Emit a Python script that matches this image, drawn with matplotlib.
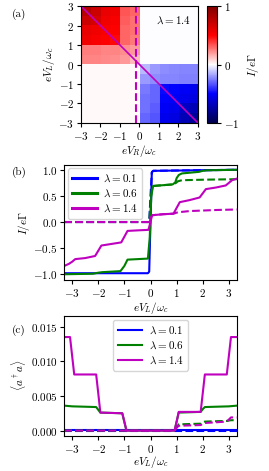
import numpy as np
import matplotlib
matplotlib.use('Agg')
import matplotlib.pyplot as plt

plt.rcParams['font.family'] = 'cmr10'
plt.rcParams['mathtext.fontset'] = 'cm'
plt.rcParams['axes.formatter.use_mathtext'] = True
plt.rcParams['font.size'] = 8
plt.rcParams['axes.linewidth'] = 0.8

# (a) current map, half-unit cells; rows go from eV_L = 3 down to -3
red_quad = [
    [0.78, 0.70, 0.58, 0.55, 0.33, 0.30],
    [0.70, 0.65, 0.55, 0.52, 0.32, 0.28],
    [0.58, 0.55, 0.52, 0.50, 0.30, 0.28],
    [0.55, 0.52, 0.50, 0.48, 0.30, 0.26],
    [0.25, 0.25, 0.24, 0.24, 0.22, 0.20],
    [0.24, 0.24, 0.23, 0.22, 0.20, 0.14],
]
blue_quad = [
    [-0.14, -0.20, -0.22, -0.23, -0.24, -0.24],
    [-0.20, -0.22, -0.24, -0.24, -0.25, -0.25],
    [-0.26, -0.30, -0.48, -0.50, -0.52, -0.55],
    [-0.28, -0.30, -0.50, -0.52, -0.55, -0.58],
    [-0.28, -0.32, -0.52, -0.55, -0.65, -0.70],
    [-0.30, -0.33, -0.55, -0.58, -0.70, -0.78],
]
top_right_level = -0.005
bottom_left_level = 0.015
cut_vr = [-3, 3]
cut_vl = [3, -3]
fixed_vr = -0.2

# (b) current vs eV_L
b_x_blue = [-3.3, -0.1, -0.05, 0.0, 0.05, 0.1, 3.3]
b_y_blue = [-0.98, -0.98, -0.95, 0.0, 0.95, 0.98, 1.0]
b_xd_blue = [-3.3, -0.05, 0.0, 0.05, 0.1, 3.3]
b_yd_blue = [0.0, 0.0, 0.5, 0.95, 0.98, 1.0]

b_x_green = [-3.3, -2.2, -2.0, -1.85, -1.15, -1.0, -0.88, -0.1, -0.03, 0.03, 0.1, 0.85, 0.95, 1.0, 1.08, 1.2, 1.85, 2.0, 2.15, 3.3]
b_y_green = [-1.0, -0.99, -0.97, -0.96, -0.94, -0.84, -0.72, -0.70, -0.3, 0.5, 0.69, 0.72, 0.76, 0.84, 0.90, 0.93, 0.96, 0.98, 0.99, 1.0]
b_xd_green = [-3.3, -0.05, 0.0, 0.05, 0.1, 0.85, 0.95, 1.05, 1.2, 2.0, 3.3]
b_yd_green = [0.0, 0.0, 0.35, 0.65, 0.69, 0.72, 0.74, 0.78, 0.80, 0.81, 0.82]

b_x_mag = [-3.3, -3.12, -3.0, -2.88, -2.5, -2.12, -2.0, -1.88, -1.5, -1.12, -1.0, -0.88, -0.5, -0.08, 0.0, 0.06, 0.5, 0.88, 1.0, 1.12, 1.5, 1.88, 2.0, 2.12, 2.5, 2.88, 3.0, 3.12, 3.3]
b_y_mag = [-0.84, -0.80, -0.76, -0.71, -0.69, -0.65, -0.55, -0.45, -0.42, -0.39, -0.28, -0.17, -0.16, -0.15, 0.0, 0.13, 0.15, 0.16, 0.27, 0.38, 0.42, 0.47, 0.55, 0.63, 0.66, 0.70, 0.75, 0.80, 0.83]
b_xd_mag = [-3.3, -0.06, 0.0, 0.06, 0.5, 0.88, 1.0, 1.12, 1.5, 2.0, 2.5, 3.3]
b_yd_mag = [0.0, 0.0, 0.07, 0.13, 0.15, 0.16, 0.18, 0.19, 0.21, 0.22, 0.23, 0.24]

# (c) photon number vs eV_L
c_x_blue = [-3.3, 3.3]
c_y_blue = [0.0001, 0.0001]
c_xd_blue = [-3.3, 3.3]
c_yd_blue = [0.0, 0.0]

c_x_green = [-3.3, -3.0, -2.08, -2.0, -1.92, -1.08, -1.0, -0.92, 0.92, 1.0, 1.08, 1.92, 2.0, 2.08, 3.0, 3.3]
c_y_green = [0.0036, 0.0035, 0.0034, 0.0030, 0.0026, 0.0025, 0.0012, 0.0, 0.0, 0.0013, 0.0026, 0.0027, 0.0031, 0.0034, 0.0035, 0.0036]
c_xd_green = [-3.3, 0.92, 1.0, 1.08, 1.92, 2.0, 2.08, 2.92, 3.0, 3.08, 3.3]
c_yd_green = [0.0, 0.0, 0.0005, 0.0009, 0.0010, 0.0012, 0.0013, 0.0014, 0.00145, 0.0015, 0.0015]

c_x_mag = [-3.3, -3.08, -3.0, -2.92, -2.08, -2.0, -1.92, -1.08, -1.0, -0.92, 0.92, 1.0, 1.08, 1.92, 2.0, 2.08, 2.92, 3.0, 3.08, 3.3]
c_y_mag = [0.0135, 0.0135, 0.0108, 0.0081, 0.0081, 0.0054, 0.0026, 0.0025, 0.0013, 0.0, 0.0, 0.0013, 0.0027, 0.0027, 0.0054, 0.0081, 0.0081, 0.0108, 0.0135, 0.0135]
c_xd_mag = [-3.3, 0.92, 1.0, 1.08, 1.92, 2.0, 2.08, 2.92, 3.0, 3.08, 3.3]
c_yd_mag = [0.0, 0.0, 0.0004, 0.0007, 0.0008, 0.0010, 0.0011, 0.0013, 0.0016, 0.0019, 0.0019]

labels = [r'$\lambda = 0.1$', r'$\lambda = 0.6$', r'$\lambda = 1.4$']
lw = 1.5

fig = plt.figure(figsize=(2.69, 4.71), dpi=100)

# ---- panel (a)
ax_a = fig.add_axes([0.301, 0.739, 0.435, 0.248])
cax = fig.add_axes([0.770, 0.739, 0.037, 0.248])
top = np.hstack([np.array(red_quad), np.full((6, 6), top_right_level)])
bottom = np.hstack([np.full((6, 6), bottom_left_level), np.array(blue_quad)])
grid = np.vstack([top, bottom])
im = ax_a.imshow(grid, cmap='seismic', vmin=-1, vmax=1, extent=(-3, 3, -3, 3),
                 interpolation='nearest', aspect='auto')
ax_a.plot(cut_vr, cut_vl, color='m', lw=1.2)
ax_a.plot([fixed_vr, fixed_vr], [-3, 3], color='m', lw=1.5, ls='--')
ax_a.set_xlim(-3, 3)
ax_a.set_ylim(-3, 3)
ax_a.set_xticks(range(-3, 4))
ax_a.set_yticks(range(-3, 4))
ax_a.set_xlabel(r'$eV_R/\omega_c$', labelpad=1)
ax_a.set_ylabel(r'$eV_L/\omega_c$', labelpad=1)
ax_a.text(0.94, 0.93, r'$\lambda = 1.4$', transform=ax_a.transAxes, ha='right', va='top')
cb = fig.colorbar(im, cax=cax, ticks=[-1, 0, 1])
cb.set_label(r'$I/e\Gamma$', labelpad=4)
cb.outline.set_linewidth(0.8)
fig.text(0.045, 0.982, '(a)', ha='left', va='top')

# ---- panel (b)
ax_b = fig.add_axes([0.239, 0.4055, 0.641, 0.244])
ax_b.plot(b_x_blue, b_y_blue, color='b', lw=lw, label=labels[0])
ax_b.plot(b_xd_blue, b_yd_blue, color='b', lw=lw, ls='--')
ax_b.plot(b_x_green, b_y_green, color='g', lw=lw, label=labels[1])
ax_b.plot(b_xd_green, b_yd_green, color='g', lw=lw, ls='--')
ax_b.plot(b_x_mag, b_y_mag, color='m', lw=lw, label=labels[2])
ax_b.plot(b_xd_mag, b_yd_mag, color='m', lw=lw, ls='--')
ax_b.set_xlim(-3.3, 3.3)
ax_b.set_ylim(-1.11, 1.09)
ax_b.set_xticks(range(-3, 4))
ax_b.set_yticks([-1.0, -0.5, 0.0, 0.5, 1.0])
ax_b.yaxis.set_major_formatter(matplotlib.ticker.FuncFormatter(lambda v, p: r'$%.1f$' % v))
ax_b.set_xlabel(r'$eV_L/\omega_c$', labelpad=1)
ax_b.set_ylabel(r'$I/e\Gamma$', labelpad=1)
leg = ax_b.legend(loc='upper left', fontsize=8, handlelength=2.2, borderaxespad=0.3,
                  labelspacing=0.35, handletextpad=0.6)
for h in leg.get_lines():
    h.set_linewidth(2.2)
fig.text(0.045, 0.645, '(b)', ha='left', va='top')

# ---- panel (c)
ax_c = fig.add_axes([0.239, 0.074, 0.641, 0.256])
ax_c.plot(c_x_blue, c_y_blue, color='b', lw=lw, label=labels[0])
ax_c.plot(c_xd_blue, c_yd_blue, color='b', lw=lw, ls='--')
ax_c.plot(c_x_green, c_y_green, color='g', lw=lw, label=labels[1])
ax_c.plot(c_xd_green, c_yd_green, color='g', lw=lw, ls='--')
ax_c.plot(c_x_mag, c_y_mag, color='m', lw=lw, label=labels[2])
ax_c.plot(c_xd_mag, c_yd_mag, color='m', lw=lw, ls='--')
ax_c.set_xlim(-3.3, 3.3)
ax_c.set_ylim(-0.0008, 0.0166)
ax_c.set_xticks(range(-3, 4))
ax_c.set_yticks([0.0, 0.005, 0.010, 0.015])
ax_c.yaxis.set_major_formatter(matplotlib.ticker.FuncFormatter(lambda v, p: r'$%.3f$' % v))
ax_c.set_xlabel(r'$eV_L/\omega_c$', labelpad=-0.5)
ax_c.set_ylabel(r'$\langle a^\dagger a\rangle$', labelpad=2)
ax_c.legend(loc='upper center', fontsize=8, handlelength=2.2, borderaxespad=0.4,
            labelspacing=0.35, handletextpad=0.6)
fig.text(0.045, 0.31, '(c)', ha='left', va='top')

for ax in (ax_a, ax_b, ax_c, cax):
    ax.tick_params(labelsize=8, width=0.8, length=3, pad=2)

fig.savefig('out.png', dpi=100)
